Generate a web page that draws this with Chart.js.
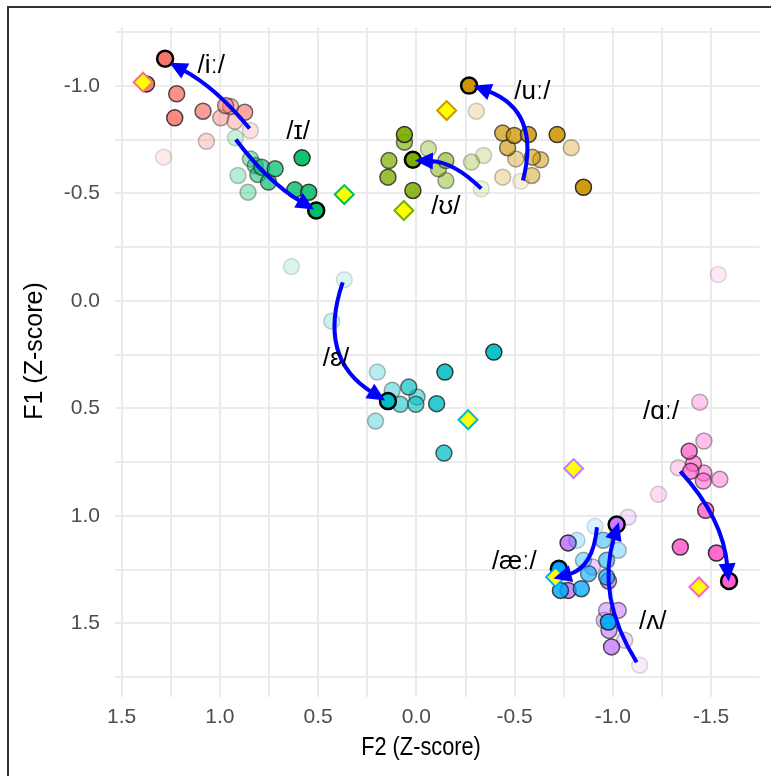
<!DOCTYPE html>
<html>
<head>
<meta charset="utf-8">
<script src="https://cdn.jsdelivr.net/npm/chart.js@4/dist/chart.umd.min.js"></script>
<style>
html, body { margin: 0; padding: 0; background: #fff; }
#wrap { position: relative; width: 771px; height: 776px; }
</style>
</head>
<body>
<div id="wrap"><canvas id="vowelChart" width="771" height="776"></canvas></div>
<script>
const vowels = ['iː', 'ɪ', 'uː', 'ʊ', 'ɛ', 'æː', 'ʌ', 'ɑː'];
const vowelColors = ['#F8766D', '#00BE67', '#CD9600', '#7CAE00', '#00BFC4', '#00A9FF', '#C77CFF', '#FF61CC'];

// measurements per vowel, in time order (first = earliest/faintest, last = final)
const iyF2 = [1.287, 0.845, 1.069, 0.924, 0.996, 0.946, 0.971, 0.874, 1.086, 1.220, 1.230, 1.374, 1.279];
const iyF1 = [-0.669, -0.793, -0.743, -0.836, -0.852, -0.905, -0.909, -0.878, -0.883, -0.964, -0.852, -1.010, -1.127];

const ihF2 = [0.636, 0.921, 0.908, 0.857, 0.845, 0.820, 0.807, 0.787, 0.753, 0.719, 0.619, 0.548, 0.582, 0.510];
const ihF1 = [-0.160, -0.759, -0.584, -0.506, -0.661, -0.630, -0.588, -0.622, -0.553, -0.615, -0.517, -0.506, -0.666, -0.421];

const uwF2 = [-0.531, -0.305, -0.439, -0.788, -0.506, -0.587, -0.632, -0.590, -0.464, -0.439, -0.498, -0.570, -0.716, -0.850, -0.268];
const uwF1 = [-0.557, -0.883, -0.576, -0.713, -0.661, -0.584, -0.657, -0.669, -0.713, -0.781, -0.770, -0.774, -0.774, -0.529, -1.002];

const uhF2 = [-0.330, -0.342, -0.280, -0.061, -0.150, -0.112, -0.150, 0.061, 0.140, 0.145, 0.018, 0.061, 0.018];
const uhF1 = [-0.522, -0.677, -0.646, -0.708, -0.560, -0.615, -0.653, -0.739, -0.653, -0.576, -0.514, -0.774, -0.657];

const ehF2 = [0.367, 0.431, 0.199, 0.208, 0.123, -0.003, 0.082, 0.003, 0.039, -0.140, -0.103, -0.145, -0.394, 0.145];
const ehF1 = [-0.099, 0.094, 0.331, 0.559, 0.416, 0.447, 0.481, 0.481, 0.401, 0.708, 0.478, 0.331, 0.238, 0.466];

const aeF2 = [-0.909, -0.817, -1.027, -0.850, -0.951, -0.968, -0.876, -0.968, -0.839, -0.733, -0.977, -0.725];
const aeF1 = [1.049, 1.114, 1.160, 1.207, 1.114, 1.207, 1.269, 1.285, 1.339, 1.347, 1.494, 1.246];

const ahF2 = [-1.136, -1.077, -1.060, -0.896, -0.956, -0.968, -1.027, -0.980, -0.977, -0.993, -0.772, -0.772, -1.019];
const ahF1 = [1.695, 1.006, 1.579, 1.238, 1.486, 1.440, 1.440, 1.533, 1.303, 1.610, 1.347, 1.126, 1.040];

const aaF2 = [-1.536, -1.232, -1.333, -1.442, -1.463, -1.544, -1.463, -1.460, -1.410, -1.396, -1.388, -1.472, -1.343, -1.527, -1.591];
const aaF1 = [-0.123, 0.900, 0.776, 0.471, 0.652, 0.830, 0.801, 0.838, 0.757, 0.792, 0.699, 0.974, 1.145, 1.173, 1.303];

const allF2 = [iyF2, ihF2, uwF2, uhF2, ehF2, aeF2, ahF2, aaF2];
const allF1 = [iyF1, ihF1, uwF1, uhF1, ehF1, aeF1, ahF1, aaF1];

// reference targets (diamonds), same vowel order
const targetF2 = [1.391, 0.367, -0.154, 0.064, -0.263, -0.708, -0.800, -1.438];
const targetF1 = [-1.018, -0.495, -0.886, -0.421, 0.553, 1.285, 0.780, 1.331];

// trajectory arrows, same vowel order
const arrowF2from = [0.849, 0.919, -0.542, -0.330, 0.375, -0.919, -1.121, -1.343];
const arrowF1from = [-0.802, -0.751, -0.560, -0.523, -0.086, 1.053, 1.681, 0.793];
const arrowF2to = [1.257, 0.521, -0.290, 0.008, 0.159, -0.698, -1.030, -1.589];
const arrowF1to = [-1.109, -0.426, -1.002, -0.653, 0.463, 1.291, 1.030, 1.305];
const arrowCurve = [0.1, 0.1, 0.45, 0.2, 0.4, -0.35, -0.23, -0.17];

// vowel label anchors
const labelF2 = [1.044, 0.602, -0.590, -0.150, 0.409, -0.498, -1.203, -1.245];
const labelF1 = [-1.092, -0.785, -0.971, -0.436, 0.269, 1.215, 1.494, 0.517];

function rgba(hex, a) {
    const n = parseInt(hex.slice(1), 16);
    return `rgba(${(n >> 16) & 255}, ${(n >> 8) & 255}, ${n & 255}, ${a})`;
}

const datasets = [];

// trajectory points, alpha grows with time
vowels.forEach((v, k) => {
    const xs = allF2[k];
    const ys = allF1[k];
    const n = xs.length;
    const alphas = xs.map((_, i) => 0.15 + 0.85 * i / (n - 1));
    datasets.push({
        label: v,
        data: xs.map((x, i) => ({ x: x, y: ys[i] })),
        pointRadius: 8,
        pointBackgroundColor: alphas.map(a => rgba(vowelColors[k], a)),
        pointBorderColor: alphas.map((a, i) => i === n - 1 ? '#000000' : `rgba(35, 35, 35, ${a})`),
        pointBorderWidth: xs.map((_, i) => i === n - 1 ? 2.5 : 1.5),
        order: 2,
    });
});

// target diamonds
datasets.push({
    label: 'targets',
    data: targetF2.map((x, i) => ({ x: x, y: targetF1[i] })),
    pointStyle: 'rectRot',
    pointRadius: 9.5,
    pointBackgroundColor: '#FFFF00',
    pointBorderColor: vowelColors,
    pointBorderWidth: 2,
    order: 1,
});

const FONT = '"Liberation Sans", "DejaVu Sans", Arial, sans-serif';

const decorPlugin = {
    id: 'decor',
    beforeDraw(chart) {
        const ctx = chart.ctx;
        ctx.save();
        ctx.fillStyle = '#ffffff';
        ctx.fillRect(0, 0, chart.width, chart.height);
        ctx.strokeStyle = '#333333';
        ctx.lineWidth = 2;
        ctx.beginPath();
        ctx.moveTo(8, chart.height);
        ctx.lineTo(8, 7);
        ctx.lineTo(chart.width, 7);
        ctx.stroke();
        ctx.restore();
    },
    afterDatasetsDraw(chart) {
        const ctx = chart.ctx;
        const xs = chart.scales.x;
        const ys = chart.scales.y;
        ctx.save();
        ctx.strokeStyle = '#0000FF';
        ctx.fillStyle = '#0000FF';
        ctx.lineWidth = 4;
        ctx.lineCap = 'butt';
        arrowF2from.forEach((_, i) => {
            const x0 = xs.getPixelForValue(arrowF2from[i]);
            const y0 = ys.getPixelForValue(arrowF1from[i]);
            const x1 = xs.getPixelForValue(arrowF2to[i]);
            const y1 = ys.getPixelForValue(arrowF1to[i]);
            const c = arrowCurve[i];
            const cx = (x0 + x1) / 2 - c * (y1 - y0);
            const cy = (y0 + y1) / 2 + c * (x1 - x0);
            let tx = x1 - cx, ty = y1 - cy;
            const tl = Math.hypot(tx, ty);
            tx /= tl; ty /= tl;
            const hl = 18, hw = 8.5;
            const bx = x1 - tx * hl, by = y1 - ty * hl;
            ctx.beginPath();
            ctx.moveTo(x0, y0);
            ctx.quadraticCurveTo(cx, cy, bx + tx * 3, by + ty * 3);
            ctx.stroke();
            ctx.beginPath();
            ctx.moveTo(x1, y1);
            ctx.lineTo(bx - ty * hw, by + tx * hw);
            ctx.lineTo(bx + ty * hw, by - tx * hw);
            ctx.closePath();
            ctx.fill();
        });

        // vowel labels
        ctx.fillStyle = '#000000';
        ctx.font = `26px ${FONT}`;
        ctx.textAlign = 'center';
        ctx.textBaseline = 'middle';
        vowels.forEach((v, i) => {
            ctx.fillText('/' + v + '/', xs.getPixelForValue(labelF2[i]), ys.getPixelForValue(labelF1[i]));
        });

        // axis titles
        ctx.font = `25px ${FONT}`;
        ctx.save();
        ctx.translate(421, 748);
        ctx.scale(0.87, 1);
        ctx.fillText('F2 (Z-score)', 0, 0);
        ctx.restore();
        ctx.translate(35, 351);
        ctx.rotate(-Math.PI / 2);
        ctx.fillText('F1 (Z-score)', 0, 0);
        ctx.restore();
    }
};

const tickLabel = (value) => {
    const v = Math.round(value * 100) / 100;
    return Math.abs(v * 2 - Math.round(v * 2)) < 1e-6 ? v.toFixed(1) : '';
};

const vowelChart = new Chart(document.getElementById('vowelChart').getContext('2d'), {
    type: 'scatter',
    data: { datasets: datasets },
    options: {
        responsive: false,
        animation: false,
        layout: { padding: { left: 0, top: 27, right: 5, bottom: 0 } },
        plugins: {
            legend: { display: false },
            tooltip: { enabled: false },
        },
        scales: {
            x: {
                type: 'linear',
                reverse: true,
                min: -1.746,
                max: 1.534,
                afterFit(scale) { scale.height = 79; },
                border: { display: false },
                grid: { color: '#EBEBEB', lineWidth: 2, drawTicks: false },
                ticks: {
                    stepSize: 0.25,
                    includeBounds: false,
                    autoSkip: false,
                    maxRotation: 0,
                    padding: 8,
                    color: '#4D4D4D',
                    font: { family: FONT, size: 21 },
                    callback: tickLabel,
                },
            },
            y: {
                type: 'linear',
                reverse: true,
                min: -1.272,
                max: 1.843,
                afterFit(scale) { scale.width = 115; },
                border: { display: false },
                grid: { color: '#EBEBEB', lineWidth: 2, drawTicks: false },
                ticks: {
                    stepSize: 0.25,
                    includeBounds: false,
                    autoSkip: false,
                    padding: 15,
                    color: '#4D4D4D',
                    font: { family: FONT, size: 21 },
                    callback: tickLabel,
                },
            },
        },
    },
    plugins: [decorPlugin],
});
</script>
</body>
</html>
